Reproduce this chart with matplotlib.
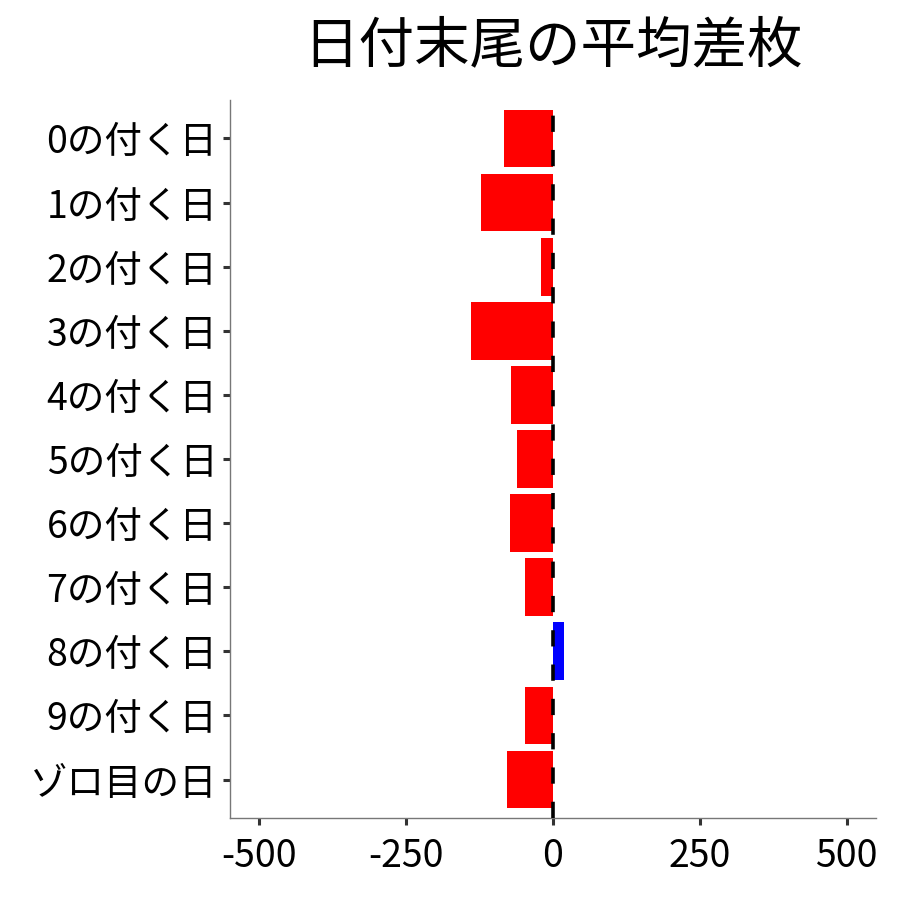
import matplotlib
matplotlib.use("Agg")
import matplotlib.pyplot as plt

plt.rcParams['font.family'] = ['Noto Sans CJK JP', 'DejaVu Sans']

labels = ['0の付く日', '1の付く日', '2の付く日', '3の付く日', '4の付く日',
          '5の付く日', '6の付く日', '7の付く日', '8の付く日', '9の付く日',
          'ゾロ目の日']
diffs = [-84, -122, -21, -139, -72, -62, -73, -48, 19, -48, -79]
xticks = [-500, -250, 0, 250, 500]

colors = ['#0000FF' if d > 0 else '#FF0000' for d in diffs]
ypos = list(range(len(labels)))

fig = plt.figure(figsize=(9, 9), dpi=100)
ax = fig.add_axes([230 / 900, 82 / 900, 646 / 900, 718 / 900])

ax.barh(ypos, diffs, height=0.9, color=colors, zorder=2)
ax.axvline(0, color='black', linewidth=2.6, linestyle=(0, (4.5, 5.0)), zorder=3)

ax.set_xlim(-550, 550)
ax.set_ylim(len(labels) - 0.4, -0.6)
ax.set_yticks(ypos)
ax.set_yticklabels(labels)
ax.set_xticks(xticks)
ax.set_xticklabels([str(v) for v in xticks])

for side in ['top', 'right']:
    ax.spines[side].set_visible(False)
for side in ['left', 'bottom']:
    ax.spines[side].set_color('#777777')
    ax.spines[side].set_linewidth(1.0)

ax.tick_params(axis='both', colors='#333333', labelcolor='black',
               labelsize=27, length=5, width=2.2)
ax.tick_params(axis='y', pad=4)
ax.tick_params(axis='x', pad=9)
ax.set_title('日付末尾の平均差枚', fontsize=40, pad=27)

fig.savefig('out.png', dpi=100)
